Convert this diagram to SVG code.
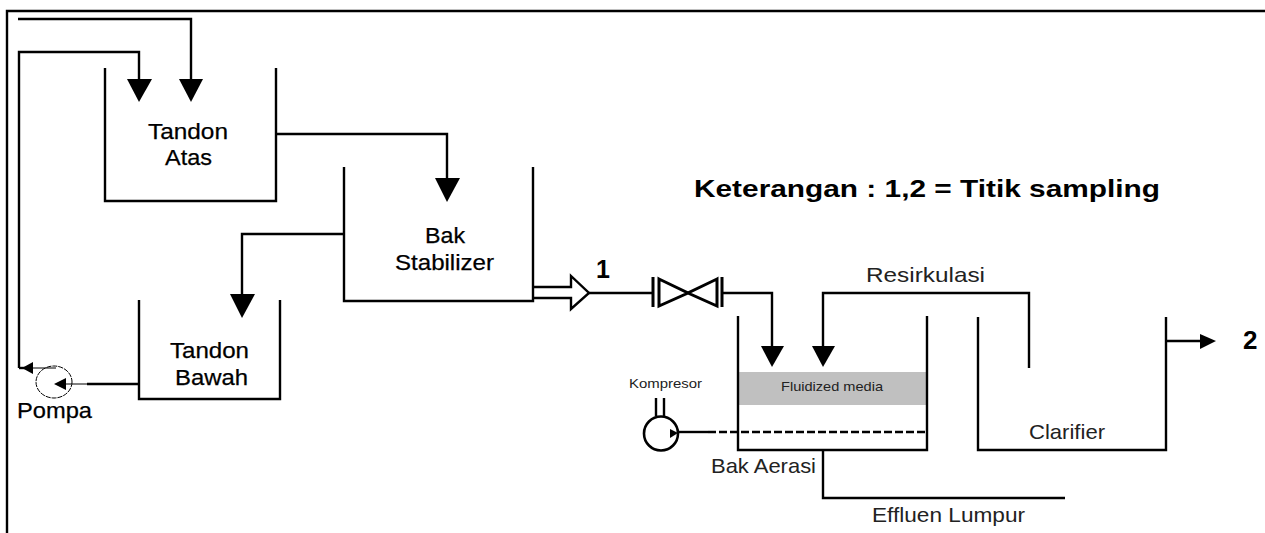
<svg xmlns="http://www.w3.org/2000/svg" width="1265" height="533" viewBox="0 0 1265 533">
<style>
.l{fill:none;stroke:#000;stroke-width:2.4}
.t{fill:none;stroke:#000;stroke-width:1}
.h{fill:#000;stroke:none}
text{font-family:"Liberation Sans",Arial,sans-serif;fill:#000}
.a{font-size:22px;stroke:#000;stroke-width:.25}
.b{font-weight:bold}
.n{font-size:21px;fill:#222}
.s{font-size:13.5px;fill:#222}
</style>
<rect width="1265" height="533" fill="#fff"/>
<g id="frame"><path class="l" d="M7 533V11H1265"/></g>
<g id="tandon-atas"><path class="l" d="M105 68V201H276V68"/><text class="a" x="148" y="139" textLength="80" lengthAdjust="spacingAndGlyphs">Tandon</text><text class="a" x="165" y="165" textLength="47" lengthAdjust="spacingAndGlyphs">Atas</text></g>
<g id="bak-stabilizer"><path class="l" d="M344 167V301H533V167"/><text class="a" x="425" y="243" textLength="40" lengthAdjust="spacingAndGlyphs">Bak</text><text class="a" x="395" y="270" textLength="99" lengthAdjust="spacingAndGlyphs">Stabilizer</text></g>
<g id="tandon-bawah"><path class="l" d="M139 300V399H280V300"/><text class="a" x="170" y="358" textLength="79" lengthAdjust="spacingAndGlyphs">Tandon</text><text class="a" x="175" y="385" textLength="73" lengthAdjust="spacingAndGlyphs">Bawah</text></g>
<g id="pompa"><ellipse cx="54" cy="382" rx="18" ry="16" fill="none" stroke="#000" stroke-width="1" stroke-dasharray="5 1"/><text class="a" x="17" y="418" textLength="75" lengthAdjust="spacingAndGlyphs">Pompa</text></g>
<g id="bak-aerasi"><rect x="738" y="372" width="189" height="33" fill="#c0c0c0"/><path class="l" d="M738 316V450H927V316"/><text class="s" x="781" y="391" textLength="102" lengthAdjust="spacingAndGlyphs">Fluidized media</text><text class="n" x="711" y="473" textLength="105" lengthAdjust="spacingAndGlyphs">Bak Aerasi</text></g>
<g id="kompresor"><circle cx="661" cy="433.5" r="17" fill="none" stroke="#000" stroke-width="2.6"/><path class="l" d="M656 398V416M664 398V416"/><path class="h" d="M670 429L678 433L670 438Z"/><text class="s" x="629" y="388" textLength="73" lengthAdjust="spacingAndGlyphs">Kompresor</text></g>
<g id="clarifier"><path class="l" d="M978 317V450H1166V317"/><text class="n" x="1029" y="439" textLength="76" lengthAdjust="spacingAndGlyphs">Clarifier</text></g>
<g id="valve"><path class="l" d="M653 277V307M722 277V307" style="stroke-width:3"/><path class="l" d="M659 279L688 293L659 306ZM717 279L688 293L717 306Z" style="stroke-width:3"/></g>
<g id="connectors">
<path class="l" d="M18 19H191V82"/><path class="h" d="M179 79H203L191 102Z"/>
<path class="l" d="M19 368V52H139V82"/><path class="h" d="M127 79H152L139 102Z"/>
<path class="l" d="M19 368H33"/><path class="h" d="M22 368L33 362V374Z"/><path class="t" d="M33 368H56"/>
<path class="t" d="M64 384H87"/><path class="l" d="M87 384H138"/><path class="h" d="M54 384L66 378V390Z"/>
<path class="l" d="M344 234H242V298"/><path class="h" d="M230 294H255L242 318Z"/>
<path class="l" d="M276 134H447V182"/><path class="h" d="M435 178H460L447 202Z"/>
<path class="l" d="M533 287H571V276L589 293L571 309V298H533"/>
<path class="l" d="M589 293H652M722 293H772V350"/><path class="h" d="M761 346H784L772 367Z"/>
<path class="l" d="M1029 368V293H823V350"/><path class="h" d="M812 346H835L823 367Z"/>
<path class="l" d="M678 432H708"/><path class="l" d="M708 432H927" stroke-dasharray="8 3"/>
<path class="l" d="M823 450V498H1065"/>
<path class="l" d="M1167 341H1202"/><path class="h" d="M1200 334L1216 341L1200 349Z"/>
</g>
<g id="labels">
<text class="b" x="694" y="197" font-size="24.5" textLength="466" lengthAdjust="spacingAndGlyphs">Keterangan : 1,2 = Titik sampling</text>
<text class="b" x="596" y="278" font-size="25">1</text>
<text class="b" x="1243" y="349" font-size="26">2</text>
<text class="n" x="866" y="282" textLength="119" lengthAdjust="spacingAndGlyphs">Resirkulasi</text>
<text class="n" x="872" y="522" textLength="153" lengthAdjust="spacingAndGlyphs">Effluen Lumpur</text>
</g>
</svg>
